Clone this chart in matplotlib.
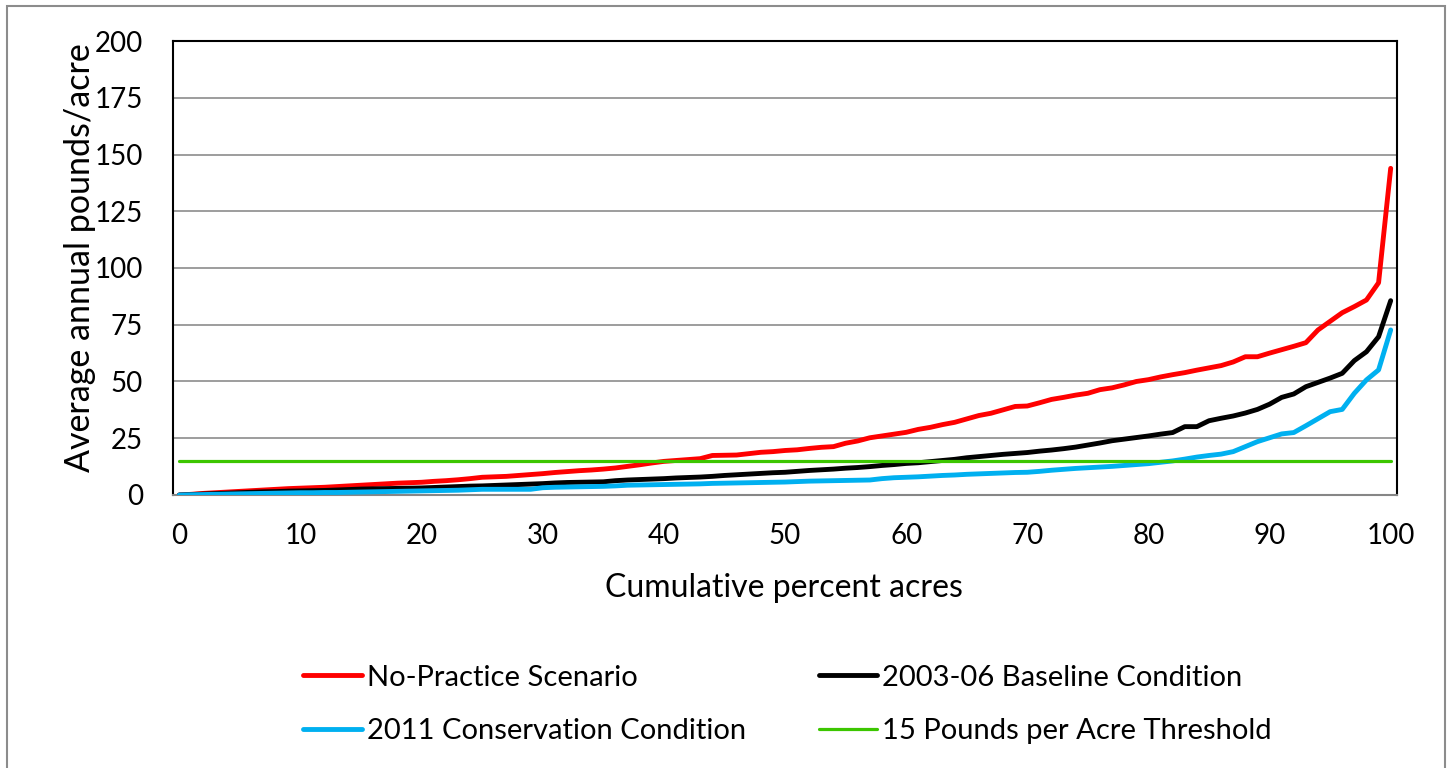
import matplotlib
matplotlib.use("Agg")
import matplotlib.pyplot as plt
from matplotlib.patches import Rectangle
import numpy as np

# cumulative percent of acres (one point per percent)
pct_acres = list(range(0, 101))

no_practice = [
    0, 0.3, 0.7, 1.0, 1.3, 1.6, 1.9, 2.2, 2.5, 2.8,
    3.0, 3.2, 3.4, 3.7, 4.0, 4.3, 4.6, 4.9, 5.2, 5.4,
    5.6, 6.0, 6.3, 6.7, 7.2, 7.8, 8.0, 8.2, 8.6, 9.0,
    9.4, 9.9, 10.3, 10.7, 11.0, 11.4, 11.9, 12.6, 13.3, 14.1,
    14.8, 15.2, 15.6, 16.0, 17.4, 17.5, 17.6, 18.2, 18.8, 19.1,
    19.6, 19.9, 20.5, 21.0, 21.3, 22.8, 23.8, 25.2, 26.0, 26.8,
    27.6, 28.9, 29.8, 31.0, 32.0, 33.5, 35.0, 36.0, 37.5, 39.0,
    39.2, 40.6, 42.1, 43.0, 44.0, 44.8, 46.4, 47.2, 48.5, 50.0,
    50.8, 52.0, 53.0, 53.9, 55.0, 56.0, 57.0, 58.6, 60.9, 60.9,
    62.5, 64.0, 65.5, 67.1, 72.7, 76.5, 80.3, 83.0, 85.9, 93.5,
    143.9,
]

baseline = [
    0, 0.2, 0.4, 0.6, 0.8, 1.0, 1.2, 1.4, 1.5, 1.7,
    1.8, 1.9, 2.0, 2.2, 2.4, 2.6, 2.7, 2.8, 2.9, 3.0,
    3.1, 3.3, 3.5, 3.7, 3.9, 4.0, 4.2, 4.4, 4.6, 4.8,
    5.0, 5.3, 5.5, 5.6, 5.7, 5.8, 6.3, 6.6, 6.8, 7.0,
    7.2, 7.5, 7.7, 7.9, 8.2, 8.6, 8.9, 9.2, 9.5, 9.8,
    10.0, 10.4, 10.8, 11.1, 11.4, 11.8, 12.1, 12.5, 13.0, 13.4,
    13.9, 14.2, 14.7, 15.2, 15.7, 16.4, 16.9, 17.4, 17.9, 18.3,
    18.7, 19.3, 19.8, 20.4, 21.1, 22.0, 22.9, 23.9, 24.6, 25.3,
    26.0, 26.8, 27.5, 30.1, 30.1, 32.7, 33.8, 34.8, 36.1, 37.7,
    40.0, 43.0, 44.5, 47.7, 49.6, 51.5, 53.6, 59.2, 63.1, 69.7,
    85.6,
]

conservation_2011 = [
    0, 0.1, 0.2, 0.3, 0.4, 0.5, 0.6, 0.7, 0.8, 0.9,
    1.0, 1.0, 1.1, 1.1, 1.2, 1.3, 1.4, 1.5, 1.6, 1.7,
    1.8, 1.9, 2.0, 2.1, 2.3, 2.5, 2.5, 2.5, 2.5, 2.5,
    3.2, 3.4, 3.5, 3.6, 3.7, 3.8, 4.0, 4.3, 4.4, 4.5,
    4.6, 4.7, 4.8, 4.9, 5.1, 5.2, 5.3, 5.4, 5.5, 5.6,
    5.7, 5.9, 6.1, 6.2, 6.3, 6.4, 6.5, 6.6, 7.2, 7.6,
    7.8, 8.0, 8.3, 8.6, 8.8, 9.1, 9.3, 9.5, 9.7, 9.9,
    10.0, 10.4, 10.9, 11.3, 11.7, 12.0, 12.3, 12.6, 13.0, 13.4,
    13.8, 14.4, 15.0, 15.8, 16.7, 17.4, 18.0, 19.1, 21.3, 23.5,
    25.2, 26.9, 27.5, 30.5, 33.6, 36.7, 37.7, 44.8, 50.7, 55.1,
    72.7,
]

threshold = 15

x_ticks = [0, 10, 20, 30, 40, 50, 60, 70, 80, 90, 100]
y_ticks = [0, 25, 50, 75, 100, 125, 150, 175, 200]

plt.rcParams['font.family'] = ['Lato', 'DejaVu Sans']

fig = plt.figure(figsize=(14.48, 7.68), dpi=100)
ax = fig.add_axes([0.1197, 0.3555, 0.8449, 0.5911])

l_red, = ax.plot(pct_acres, no_practice, color='#FF0000', lw=3.5, label='No-Practice Scenario',
                 solid_capstyle='round', zorder=3)
l_blk, = ax.plot(pct_acres, baseline, color='#000000', lw=3.5, label='2003-06 Baseline Condition',
                 solid_capstyle='round', zorder=3)
l_blu, = ax.plot(pct_acres, conservation_2011, color='#00B0F0', lw=3.5, label='2011 Conservation Condition',
                 solid_capstyle='round', zorder=3)
l_grn, = ax.plot(pct_acres, [threshold] * len(pct_acres), color='#3CC600', lw=2.3,
                 label='15 Pounds per Acre Threshold', solid_capstyle='round', zorder=3)

ax.set_xlim(-0.5, 100.5)
ax.set_ylim(0, 200)
ax.set_xticks(x_ticks)
ax.set_yticks(y_ticks)
ax.tick_params(length=0, labelsize=20)
ax.tick_params(axis='y', pad=22)
ax.tick_params(axis='x', pad=20)
ax.yaxis.grid(True, color='#8C8C8C', lw=1.2)
ax.set_axisbelow(True)

for side in ('top', 'left', 'right'):
    ax.spines[side].set_color('black')
    ax.spines[side].set_linewidth(1.5)
ax.spines['bottom'].set_color('#868686')
ax.spines['bottom'].set_linewidth(1.5)

ax.set_xlabel('Cumulative percent acres', fontsize=23, va='center')
ax.xaxis.set_label_coords(0.499, -0.205)
ax.set_ylabel('Average annual pounds/acre', fontsize=24.5, va='center')
ax.yaxis.set_label_coords(-0.0763, 0.523)

# column-wise fill -> rows: red/black, blue/green
fig.legend([l_red, l_blu, l_blk, l_grn],
           [l_red.get_label(), l_blu.get_label(), l_blk.get_label(), l_grn.get_label()],
           loc='center', bbox_to_anchor=(0.5439, 0.0827), ncol=2,
           frameon=False, fontsize=21, handlelength=2.0, handletextpad=0.17,
           columnspacing=2.5, labelspacing=0.95)

# outer chart border
fig.patches.append(Rectangle((7 / 1448, -0.01), 1438 / 1448, 1 - 6 / 768 + 0.01,
                             transform=fig.transFigure, fill=False,
                             edgecolor='#8C8C8C', lw=1.5, clip_on=False))

fig.savefig('out.png', dpi=100)
